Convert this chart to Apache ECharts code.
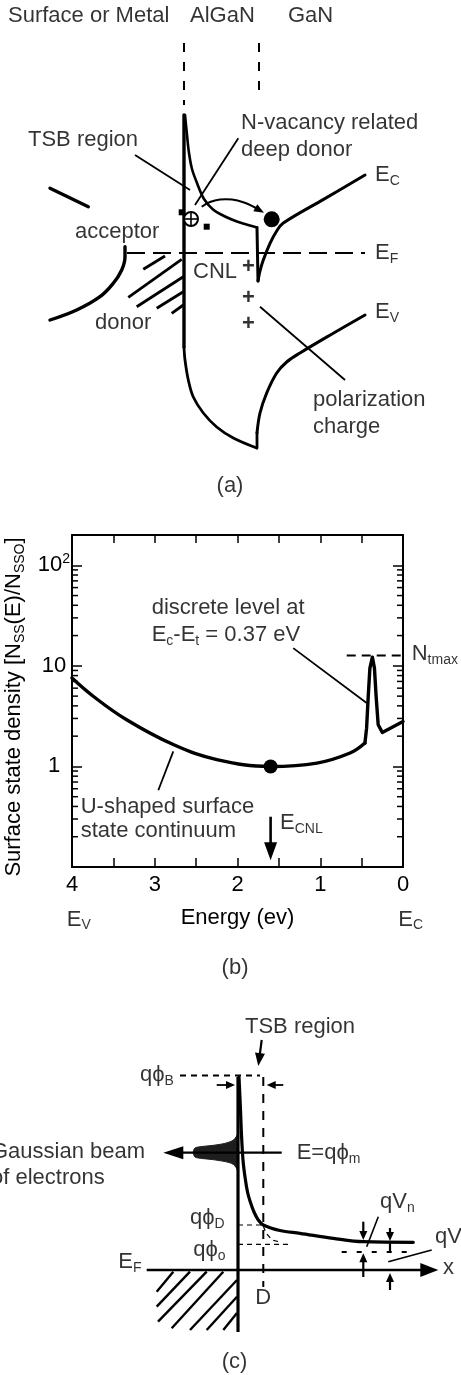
<!DOCTYPE html>
<html>
<head>
<meta charset="utf-8">
<script src="https://cdn.jsdelivr.net/npm/echarts@6/dist/echarts.min.js"></script>
<style>
  html, body { margin: 0; padding: 0; background: #fff; }
  #chart { width: 461px; height: 1375px; }
</style>
</head>
<body>
<div id="chart"></div>
<script>
// ===== (a) band diagram of the AlGaN/GaN surface (x: depth, y: energy, E_F = 0) =====
const cbAlGaN   = [[0.1,13.8],[0.3,11.8],[0.5,10.0],[0.8,8.4],[1.3,7.0],[2.0,5.4],[2.9,4.35],[3.9,3.75],[4.9,3.3],[5.9,2.95],[7.3,2.55]];
const cbStep    = [[7.3,2.55],[7.4,-2.8]];
const cbGaN     = [[7.4,-2.8],[7.6,-1.8],[7.93,-0.7],[8.6,0.97],[9.27,2.2],[9.93,3.0],[14.0,5.39],[18.1,7.8]];
const interfaceLine = [[0,13.8],[0,-9.4]];
const vbAlGaN   = [[0,-9.4],[0.1,-10.7],[0.43,-12.7],[0.93,-14.4],[1.93,-16.0],[3.27,-17.4],[4.93,-18.5],[7.27,-19.5]];
const vbStep    = [[7.3,-19.5],[7.3,-18.0]];
const vbGaN     = [[7.3,-18.0],[7.6,-16.0],[8.27,-14.0],[9.27,-12.0],[10.27,-10.9],[11.6,-10.0],[14.8,-8.1],[18.1,-6.2]];
const fermiA    = [[-5.7,0],[18.1,0]];
const acceptorBranch = [[-13.4,6.47],[-9.57,4.63]];
const donorBranch    = [[-13.4,-6.7],[-10.73,-5.7],[-8.4,-4.37],[-7.07,-3.03],[-6.23,-1.7],[-5.9,-0.37],[-5.9,0.63]];
const regionBoundsA  = [[[0,21.0],[0,14.8]], [[7.5,21.0],[7.5,16.3]]];
const hatchA = [
  [[-4.07,-1.63],[-1.9,-0.3]],
  [[-5.57,-4.43],[-0.23,-0.63]],
  [[-4.73,-5.37],[-0.07,-2.37]],
  [[-2.73,-5.53],[-0.07,-3.87]],
  [[-1.23,-6.03],[-0.07,-5.2]]
];
const leadersA = [
  [[-4.9,9.8],[0.6,6.3]],
  [[5.43,11.47],[1.1,4.8]],
  [[7.6,-5.37],[16.1,-12.7]]
];
const ionizedDonor = [0.7, 3.4];
const trapSites    = [[-0.23,4.07],[2.27,2.63]];
const freedElectron = [8.77, 3.37];
const emissionPath = [[[1.77,4.63],[2.6,5.1],[3.6,5.35],[4.8,5.35],[6.0,5.05],[7.0,4.6],[8.0,4.03]]];
const polarizationCharges = [[6.43,-1.37],[6.43,-4.53],[6.43,-7.1]];
const labelsA = [
  ['Surface or Metal', -17.6, 23.7],
  ['AlGaN', 0.6, 23.7],
  ['GaN', 10.4, 23.7],
  ['TSB region', -15.6, 11.3],
  ['N-vacancy related', 5.7, 13.0],
  ['deep donor', 5.7, 10.3],
  ['E{s|C}', 19.1, 7.8],
  ['acceptor', -10.9, 2.1],
  ['E{s|F}', 19.1, 0.0],
  ['CNL', 0.9, -1.87],
  ['E{s|V}', 19.1, -5.9],
  ['donor', -8.9, -7.0],
  ['polarization', 12.9, -14.7],
  ['charge', 12.9, -17.4]
];
const captionA = [['(a)', 4.6, -23.3]];

// ===== (b) surface state density vs energy =====
const energyTickLabels = [0, 1, 2, 3, 4];
const densityTickValues = [1, 10, 100];
const densityTickLabels = ['1', '10', '10^2'];
const densityMinorTicks = [0.2,0.3,0.4,0.5,0.6,0.7,0.8,0.9, 2,3,4,5,6,7,8,9, 20,30,40,50,60,70,80,90];
const uShapeEnergy  = [4.0, 3.74, 3.34, 2.77, 2.25, 1.6, 1.04, 0.64, 0.46];
const uShapeDensity = [7.57, 4.96, 2.91, 1.64, 1.17, 1.0, 1.08, 1.36, 1.71];
const discreteEnergy  = [0.46, 0.44, 0.42, 0.40, 0.37, 0.345, 0.325, 0.30, 0.25, 0.0];
const discreteDensity = [1.71, 2.4, 5.0, 9.5, 12.2, 9.5, 5.0, 2.6, 2.18, 2.8];
const cnlLevel = [1.6, 1.0];
const ntmaxLine = [[0.68,12.7],[0.0,12.7]];
const leadersB = [
  [[1.326,15.0],[0.439,4.27]],
  [[2.776,1.41],[2.957,0.58]]
];
const cnlArrow = [[[1.6,0.316],[1.6,0.117]]];
const labelsB = [
  ['discrete level at', 3.037, 37.5],
  ['E{s|c}-E{s|t} = 0.37 eV', 3.037, 20.4],
  ['N{s|tmax}', -0.105, 13.2],
  ['U-shaped surface', 3.895, 0.40],
  ['state continuum', 3.895, 0.226],
  ['E{s|CNL}', 1.486, 0.275],
  ['E{s|V}', 4.064, 0.030],
  ['E{s|C}', 0.057, 0.030]
];
const captionB = [['(b)', 2.03, 0.010]];

// ===== (c) thin surface barrier and field emission =====
const barrierC = [[0.1,19.3],[0.25,16.0],[0.35,13.5],[0.5,11.0],[0.7,9.3],[0.95,7.8],[1.2,6.9],[1.6,5.8],[2.03,5.0],[2.53,4.5],[4.2,3.95],[6.2,3.67],[9.53,3.17],[12.53,2.83],[17.53,2.77]];
const surfaceAxisC = [[[0,19.3],[0,-6.2]]];
const gaussianBeam = [[-4.5,11.75],[-4.3,12.2],[-3.6,12.35],[-2.6,12.45],[-1.6,12.6],[-0.9,12.78],[-0.45,13.0],[-0.2,13.3],[0,13.6],[0,9.9],[-0.2,10.25],[-0.45,10.55],[-0.9,10.75],[-1.6,10.9],[-2.6,11.05],[-3.6,11.15],[-4.3,11.3],[-4.5,11.75]];
const hatchC = [
  [[-8.13,-2.17],[-6.47,-0.17]],
  [[-8.13,-3.67],[-4.8,-0.17]],
  [[-8.0,-5.17],[-3.13,-0.17]],
  [[-6.63,-5.83],[-1.47,-0.17]],
  [[-4.8,-6.0],[-0.1,-1.0]],
  [[-3.13,-6.0],[-0.1,-2.67]],
  [[-1.47,-6.0],[-0.1,-4.3]]
];
const barrierTopLevel = [[[-5.8,19.45],[2.2,19.45]]];
const tsbEdge = [[[2.53,19.3],[2.53,-1.7]]];
const levelsC = [[[0,4.5],[2.53,4.5]], [[0,2.57],[5.37,2.57]], [[2.53,4.4],[2.8,3.7],[3.4,3.0],[4.4,2.75]]];
const quasiFermiLevel = [[[10.37,1.8],[17.2,1.8]]];
const distanceAxis = [[[-9.13,0],[20.03,0]]];
const beamArrow = [[[4.37,11.73],[-7.47,11.73]]];
const tsbPointer = [[[2.37,23.0],[2.03,20.4]]];
const widthArrows = [[[-2.13,18.5],[-0.3,18.5]], [[4.53,18.5],[2.87,18.5]]];
const voltageArrows = [
  [[12.53,4.83],[12.53,3.0]],
  [[12.53,-0.7],[12.53,1.67]],
  [[15.2,4.2],[15.2,2.9]],
  [[15.2,-2.0],[15.2,-0.3]]
];
const voltageTicks = [[[15.2,2.9],[15.2,1.8]]];
const leadersC = [[[14.03,5.33],[12.87,2.33]], [[19.37,2.0],[15.03,0.83]]];
const labelsC = [
  ['TSB region', 0.7, 24.3],
  ['qϕ{s|B}', -9.8, 19.5],
  ['Gaussian beam', -24.7, 11.83],
  ['of electrons', -24.7, 9.2],
  ['E=qϕ{s|m}', 5.87, 11.7],
  ['qϕ{s|D}', -4.8, 5.17],
  ['qϕ{s|o}', -4.47, 2.0],
  ['E{s|F}', -11.97, 0.8],
  ['x', 20.5, 0.2],
  ['qV{s|n}', 14.2, 6.83],
  ['qV', 19.7, 3.33]
];
const captionsC = [['D', 2.53, -2.83], ['(c)', -0.35, -9.17]];

// ----- drawing helpers -----
const FONT = '"Liberation Sans", Arial, Helvetica, sans-serif';
const INK = '#000';
const rich = {
  s: { fontSize: 14, lineHeight: 14, verticalAlign: 'bottom', fontFamily: FONT, color: INK },
  p: { fontSize: 14, lineHeight: 14, verticalAlign: 'top', fontFamily: FONT, color: INK }
};

function curve(gi, pts, width, smooth) {
  return {
    type: 'line', xAxisIndex: gi, yAxisIndex: gi, data: pts,
    symbol: 'none', showSymbol: false, smooth: smooth || false, clip: false, silent: true,
    lineStyle: { color: INK, width: width, cap: 'round', join: 'round' }
  };
}

function segs(gi, lines, o) {
  return {
    type: 'custom', coordinateSystem: 'cartesian2d', xAxisIndex: gi, yAxisIndex: gi,
    clip: false, silent: true, z: o.z || 2, data: lines.map(l => l[0]),
    renderItem(params, api) {
      const pts = lines[params.dataIndex].map(p => api.coord(p));
      const children = [];
      const linePts = pts.slice();
      if (o.head) {
        const n = pts.length, e = pts[n - 1], q = pts[n - 2];
        const dx = e[0] - q[0], dy = e[1] - q[1], len = Math.hypot(dx, dy) || 1;
        const ux = dx / len, uy = dy / len;
        const bx = e[0] - ux * o.L, by = e[1] - uy * o.L;
        const px = -uy * o.W / 2, py = ux * o.W / 2;
        children.push({ type: 'polygon', shape: { points: [e, [bx + px, by + py], [bx - px, by - py]] }, style: { fill: INK, stroke: null } });
        linePts[n - 1] = [e[0] - ux * o.L * 0.7, e[1] - uy * o.L * 0.7];
      }
      children.unshift({
        type: 'polyline', shape: { points: linePts, smooth: o.smooth || 0 },
        style: { stroke: INK, fill: 'none', lineWidth: o.width, lineDash: o.dash || null, lineCap: o.cap || 'butt' }
      });
      return { type: 'group', children };
    }
  };
}

function texts(gi, items, align, extra) {
  const position = align === 'center' ? 'inside' : 'right';
  return {
    type: 'scatter', xAxisIndex: gi, yAxisIndex: gi, symbolSize: 0, clip: false, silent: true,
    data: items.map(t => ({ value: [t[1], t[2]], name: t[0] })),
    label: Object.assign({
      show: true, position: position, distance: 0,
      formatter: p => p.name,
      fontFamily: FONT, fontSize: 22, lineHeight: 26, color: INK, rich: rich
    }, extra || {})
  };
}

function dots(gi, pts, symbol, size, fill, border) {
  return {
    type: 'scatter', xAxisIndex: gi, yAxisIndex: gi, symbol: symbol, symbolSize: size,
    clip: false, silent: true, data: pts, z: 3,
    itemStyle: { color: fill, borderColor: INK, borderWidth: border || 0, opacity: 1 }
  };
}

// ----- (b) minor log ticks on both frame sides -----
const minorTickSeries = {
  type: 'custom', coordinateSystem: 'cartesian2d', xAxisIndex: 1, yAxisIndex: 1, clip: false, silent: true,
  data: densityMinorTicks.map(v => [4, v]),
  renderItem(params, api) {
    const v = api.value(1);
    const l = api.coord([4, v]), r = api.coord([0, v]);
    const st = { stroke: INK, lineWidth: 1.5 };
    return { type: 'group', children: [
      { type: 'line', shape: { x1: l[0], y1: l[1], x2: l[0] + 6, y2: l[1] }, style: st },
      { type: 'line', shape: { x1: r[0] - 6, y1: r[1], x2: r[0], y2: r[1] }, style: st }
    ]};
  }
};

// ----- (c) filled electron distribution -----
const beamFill = {
  type: 'custom', coordinateSystem: 'cartesian2d', xAxisIndex: 2, yAxisIndex: 2, clip: false, silent: true,
  data: [gaussianBeam[0]],
  renderItem(params, api) {
    return { type: 'polygon', shape: { points: gaussianBeam.map(p => api.coord(p)), smooth: 0.3 }, style: { fill: '#1e1e1e', stroke: '#1e1e1e', lineWidth: 1 } };
  }
};

const densityLabel = v => {
  const i = densityTickValues.findIndex(t => Math.abs(Math.log10(v) - Math.log10(t)) < 1e-6);
  if (i < 0) return '';
  const t = densityTickLabels[i].split('^');
  return t.length > 1 ? t[0] + '{p|' + t[1] + '}' : t[0];
};
const frameLine = { show: true, onZero: false, lineStyle: { color: INK, width: 2 } };

const option = {
  animation: false,
  backgroundColor: '#fff',
  textStyle: { fontFamily: FONT, color: INK },
  grid: [
    { left: 0, top: 0, width: 461, height: 500, outerBoundsMode: 'none', containLabel: false },
    { left: 72, top: 535, width: 331, height: 332, outerBoundsMode: 'none', containLabel: false },
    { left: 0, top: 1000, width: 461, height: 375, outerBoundsMode: 'none', containLabel: false }
  ],
  xAxis: [
    { gridIndex: 0, type: 'value', min: -18.4, max: 27.7, show: false },
    { gridIndex: 1, type: 'value', min: 0, max: 4, interval: 0.5, inverse: true, position: 'bottom',
      axisLine: frameLine,
      axisTick: { show: true, inside: true, length: 9, lineStyle: { color: INK, width: 1.5 } },
      axisLabel: { show: true, interval: 0, margin: 7, fontSize: 22, fontFamily: FONT, color: INK,
        formatter: v => energyTickLabels.indexOf(v) >= 0 ? String(v) : '' },
      splitLine: { show: false },
      name: 'Energy (ev)', nameLocation: 'middle', nameGap: 40,
      nameTextStyle: { fontSize: 22, fontFamily: FONT, color: INK } },
    { gridIndex: 2, type: 'value', min: -23.8, max: 22.3, show: false },
    { gridIndex: 1, type: 'value', min: 0, max: 4, interval: 0.5, inverse: true, position: 'top',
      axisLine: frameLine,
      axisTick: { show: true, inside: true, length: 8, lineStyle: { color: INK, width: 1.5 } },
      axisLabel: { show: false }, splitLine: { show: false } }
  ],
  yAxis: [
    { gridIndex: 0, type: 'value', min: -24.7, max: 25.3, show: false },
    { gridIndex: 1, type: 'log', logBase: 10, min: 0.1, max: 200, position: 'left',
      axisLine: frameLine,
      axisTick: { show: true, inside: true, length: 10, lineStyle: { color: INK, width: 1.5 } },
      axisLabel: { show: true, margin: 18, align: 'center', fontSize: 22, lineHeight: 26, fontFamily: FONT, color: INK,
        formatter: densityLabel, rich: rich },
      splitLine: { show: false },
      name: 'Surface state density [N{s|SS}(E)/N{s|SSO}]', nameLocation: 'middle', nameRotate: 90, nameGap: 36,
      nameTextStyle: { fontSize: 22, lineHeight: 26, fontFamily: FONT, color: INK, rich: rich, padding: [0, 12, 0, 0] } },
    { gridIndex: 2, type: 'value', min: -10.5, max: 27, show: false },
    { gridIndex: 1, type: 'log', logBase: 10, min: 0.1, max: 200, position: 'right',
      axisLine: frameLine,
      axisTick: { show: true, inside: true, length: 10, lineStyle: { color: INK, width: 1.5 } },
      axisLabel: { show: false }, splitLine: { show: false } }
  ],
  series: [
    // ---- (a) ----
    segs(0, regionBoundsA, { width: 2, dash: [9, 10] }),
    segs(0, [fermiA], { width: 2.2, dash: [18, 8] }),
    segs(0, hatchA, { width: 2.8 }),
    curve(0, cbAlGaN, 2.6, 0.35),
    curve(0, cbStep, 3),
    curve(0, cbGaN, 3, 0.35),
    curve(0, interfaceLine, 3.4),
    curve(0, vbAlGaN, 2.8, 0.35),
    curve(0, vbStep, 2.8),
    curve(0, vbGaN, 3, 0.35),
    curve(0, acceptorBranch, 3.4),
    curve(0, donorBranch, 3.4, 0.4),
    segs(0, leadersA, { width: 1.8 }),
    segs(0, emissionPath, { width: 2, smooth: 0.4, head: true, L: 10, W: 8 }),
    dots(0, [ionizedDonor], 'circle', 14, '#fff', 2),
    segs(0, [[[ionizedDonor[0] - 0.6, ionizedDonor[1]], [ionizedDonor[0] + 0.6, ionizedDonor[1]]],
             [[ionizedDonor[0], ionizedDonor[1] - 0.6], [ionizedDonor[0], ionizedDonor[1] + 0.6]]], { width: 1.6, z: 6 }),
    dots(0, trapSites, 'rect', 6, INK),
    dots(0, [freedElectron], 'circle', 16, INK),
    texts(0, polarizationCharges.map(p => ['+', p[0], p[1]]), 'center', { fontWeight: 'bold' }),
    texts(0, labelsA, 'left'),
    texts(0, captionA, 'center'),

    // ---- (b) ----
    minorTickSeries,
    curve(1, uShapeEnergy.map((e, i) => [e, uShapeDensity[i]]), 3.4, 0.4),
    curve(1, discreteEnergy.map((e, i) => [e, discreteDensity[i]]), 3.4),
    segs(1, [ntmaxLine], { width: 2, dash: [9, 6] }),
    segs(1, leadersB, { width: 1.8 }),
    segs(1, cnlArrow, { width: 2.6, head: true, L: 18, W: 13 }),
    dots(1, [cnlLevel], 'circle', 14, INK),
    texts(1, labelsB, 'left'),
    texts(1, captionB, 'center'),

    // ---- (c) ----
    beamFill,
    segs(2, hatchC, { width: 2.4 }),
    segs(2, surfaceAxisC, { width: 3.2 }),
    curve(2, barrierC, 3.2, 0.35),
    segs(2, barrierTopLevel, { width: 1.8, dash: [6, 5] }),
    segs(2, tsbEdge, { width: 2, dash: [9, 8] }),
    segs(2, levelsC, { width: 1.2, dash: [5, 4] }),
    segs(2, quasiFermiLevel, { width: 2.2, dash: [5, 10] }),
    segs(2, distanceAxis, { width: 2.6, head: true, L: 18, W: 14 }),
    segs(2, beamArrow, { width: 2.2, head: true, L: 20, W: 13 }),
    segs(2, tsbPointer, { width: 2.2, head: true, L: 13, W: 10 }),
    segs(2, widthArrows, { width: 1.8, head: true, L: 9, W: 8 }),
    segs(2, voltageArrows, { width: 2.2, head: true, L: 9, W: 8 }),
    segs(2, voltageTicks, { width: 2.2 }),
    segs(2, leadersC, { width: 1.6 }),
    texts(2, labelsC, 'left'),
    texts(2, captionsC, 'center')
  ]
};

const chart = echarts.init(document.getElementById('chart'), null, { renderer: 'canvas' });
chart.setOption(option);
</script>
</body>
</html>
